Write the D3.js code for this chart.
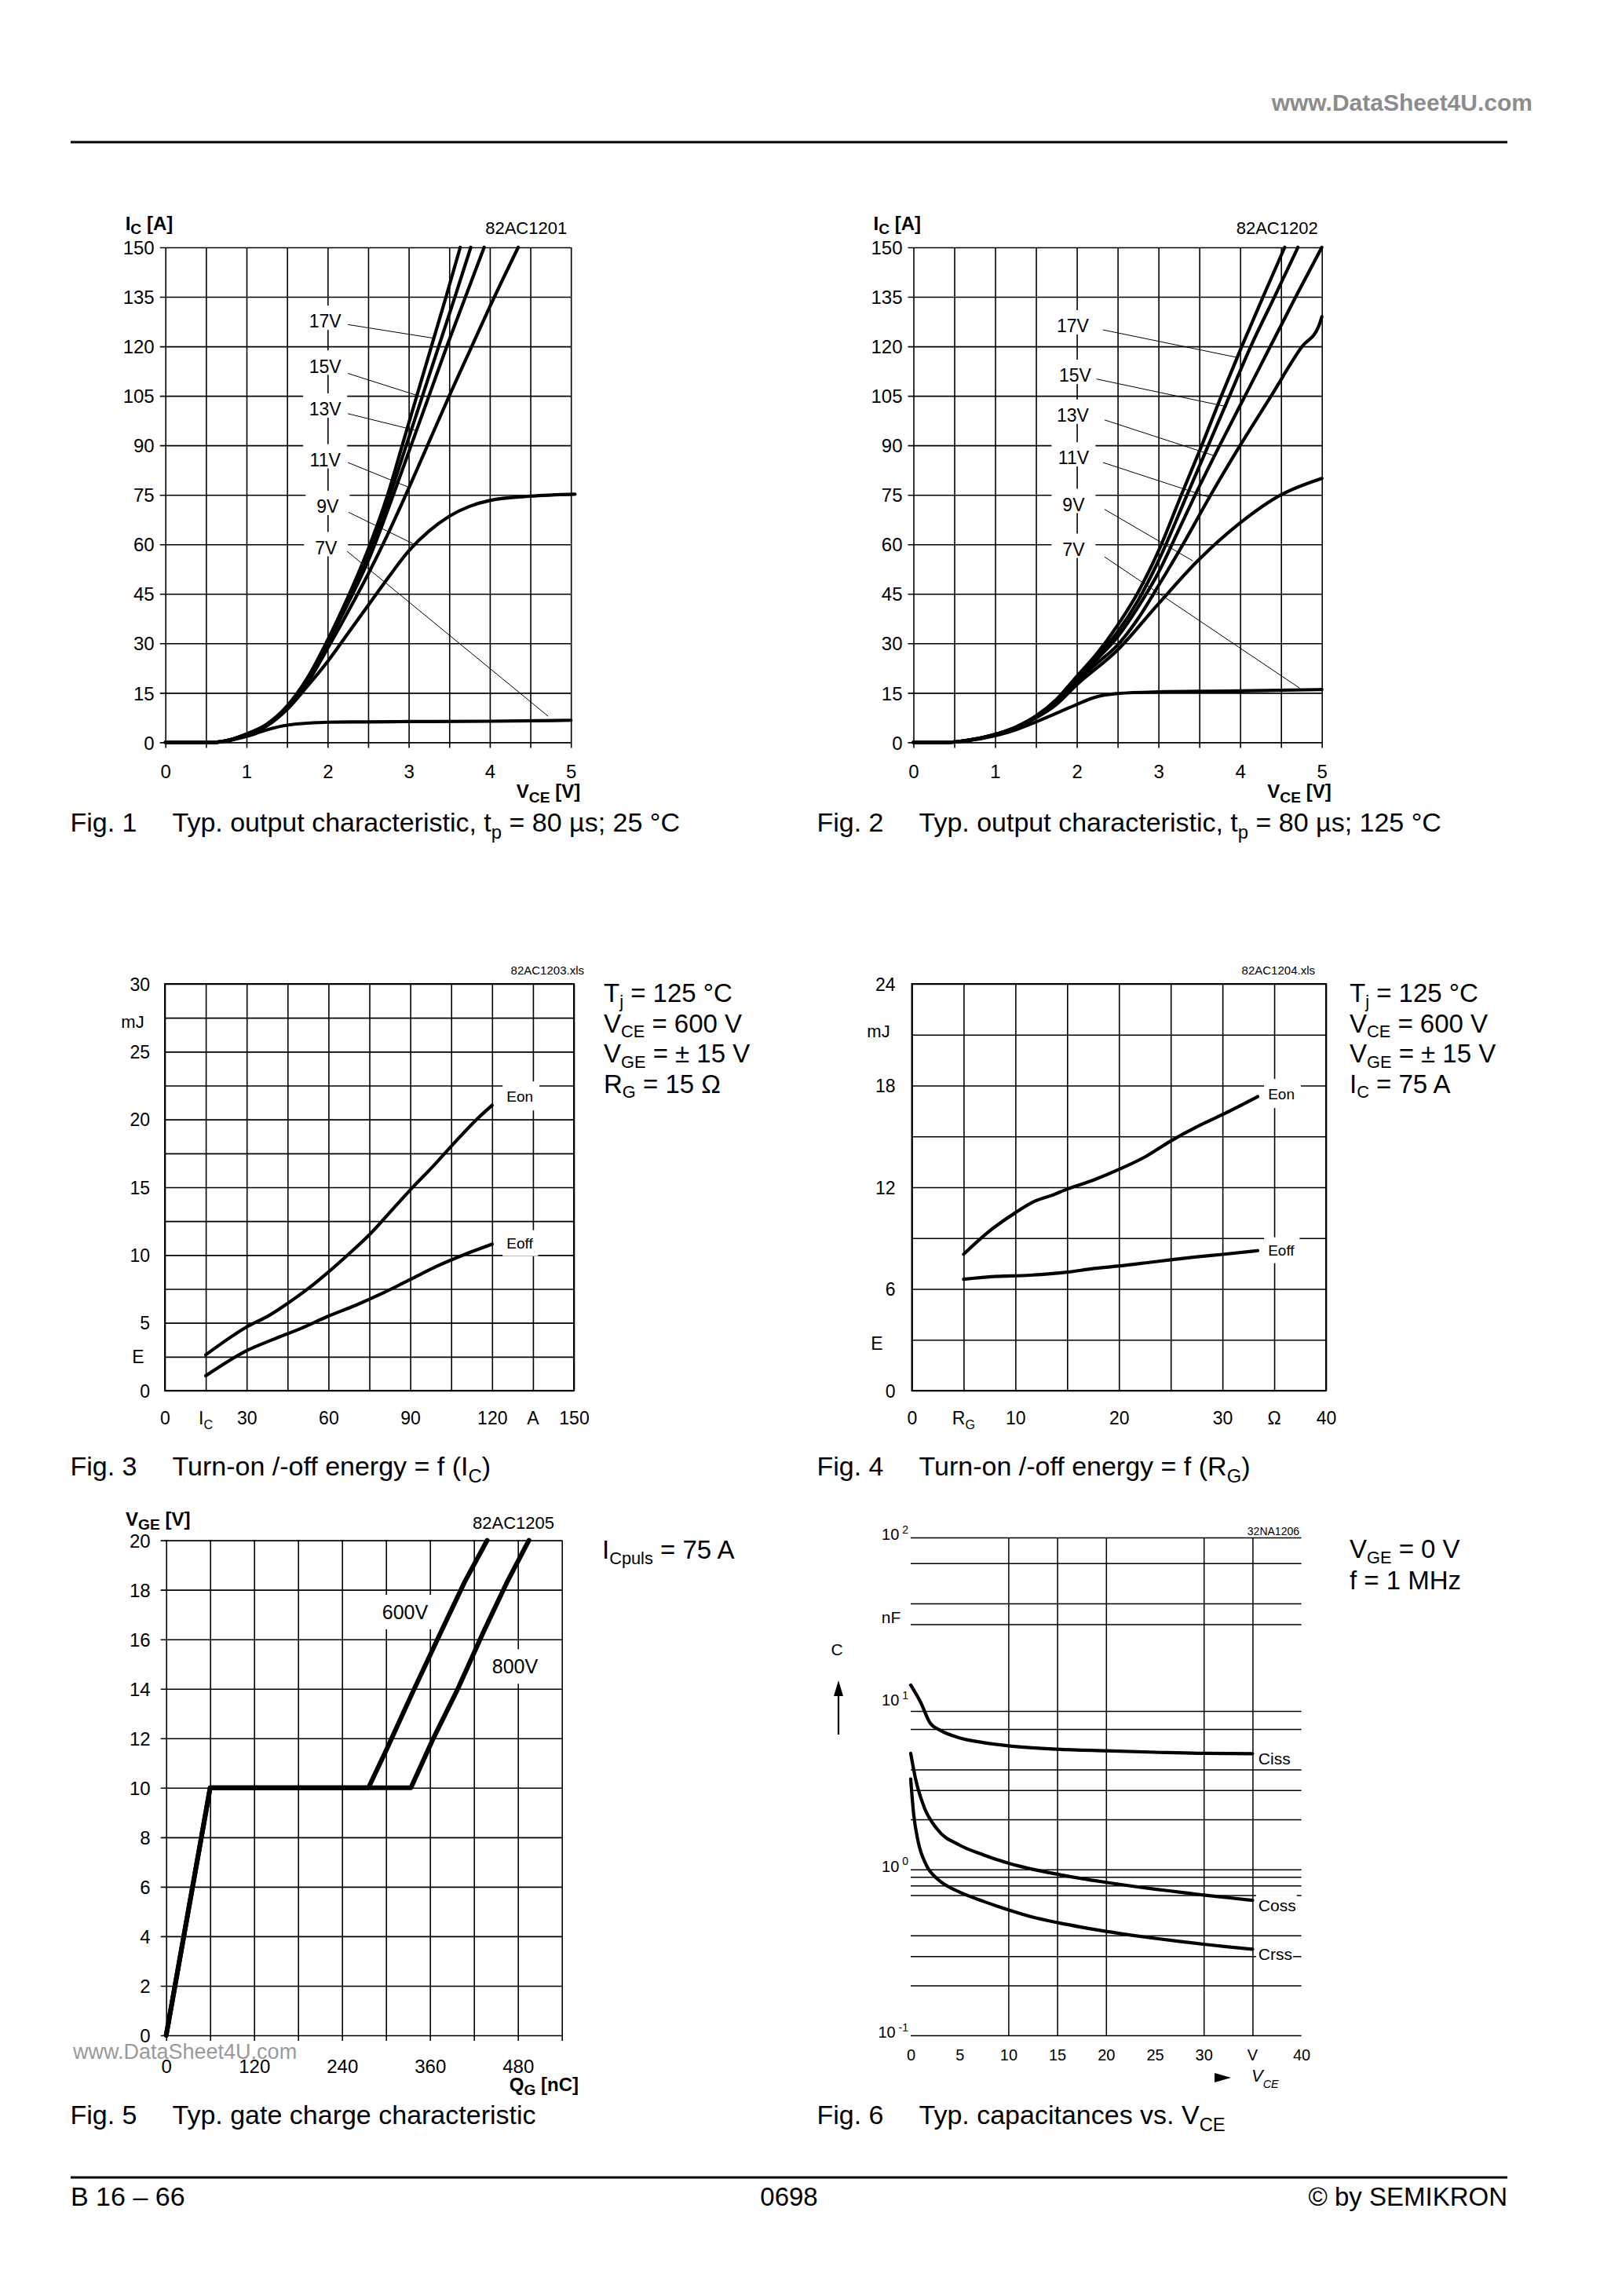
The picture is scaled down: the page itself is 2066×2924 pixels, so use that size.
<!DOCTYPE html>
<html><head><meta charset="utf-8"><title>SEMIKRON B 16-66</title>
<script src="https://cdn.jsdelivr.net/npm/d3@7/dist/d3.min.js"></script>
<style>html,body{margin:0;padding:0;background:#fff}svg text{font-family:"Liberation Sans",Arial,Helvetica,sans-serif;white-space:pre}</style>
</head><body><script>
// ================= DATA =================
// Fig.1 typ. output characteristic 25 °C : [VCE (V), IC (A)]
const f1_series = ['17V','15V','13V','11V','9V','7V'];
const f1_17V = [[0,0],[0.6,0],[0.8,0.8],[1.0,2.5],[1.25,5.5],[1.5,11],[1.75,19.5],[2.0,31],[2.25,44],[2.5,58.5],[2.74,75],[2.92,90],[3.1,105],[3.28,120],[3.46,135],[3.635,150]];
const f1_15V = [[0,0],[0.6,0],[0.8,0.8],[1.0,2.5],[1.25,5.4],[1.5,10.8],[1.75,19],[2.0,30.5],[2.25,43],[2.5,57],[2.77,75],[2.97,90],[3.17,105],[3.37,120],[3.57,135],[3.765,150]];
const f1_13V = [[0,0],[0.6,0],[0.8,0.8],[1.0,2.5],[1.25,5.3],[1.5,10.6],[1.75,18.5],[2.0,30],[2.25,42],[2.5,55],[2.81,75],[3.03,90],[3.25,105],[3.47,120],[3.70,135],[3.93,150]];
const f1_11V = [[0,0],[0.6,0],[0.8,0.8],[1.0,2.4],[1.25,5.2],[1.5,10.4],[1.75,18],[2.0,28.5],[2.25,39.5],[2.5,51],[2.75,63.5],[3.0,77],[3.25,91],[3.5,105],[3.75,118.5],[4.0,132],[4.35,150]];
const f1_9V  = [[0,0],[0.6,0],[0.8,0.7],[1.0,2.2],[1.25,5],[1.5,10],[1.75,17],[2.0,24.5],[2.25,33],[2.5,41.5],[2.75,50],[3.0,58],[3.25,64],[3.5,68.5],[3.75,71.5],[4.0,73.3],[4.5,74.6],[5.05,75.2]];
const f1_7V  = [[0,0],[0.6,0],[0.8,0.6],[1.0,1.8],[1.25,3.8],[1.5,5.2],[1.75,5.8],[2.0,6.1],[2.5,6.2],[3.0,6.3],[4.0,6.4],[5.0,6.7]];
const f1_labelAt  = [[1.97,127.6],[1.97,114],[1.97,101],[1.97,85.6],[2.0,71.5],[1.98,59]];
const f1_leadFrom = [[2.25,126.6],[2.25,111.8],[2.25,99.6],[2.25,84.8],[2.26,69.7],[2.24,57.9]];
const f1_leadTo   = [[3.30,122.5],[3.12,105],[3.09,94.5],[2.99,77.4],[3.07,60],[4.72,7.9]];

// Fig.2 typ. output characteristic 125 °C : [VCE (V), IC (A)]
const f2_17V = [[0,0],[0.4,0],[0.6,0.4],[1.0,2.4],[1.25,4.6],[1.5,8],[1.75,13],[2.0,20],[2.25,27],[2.5,35.5],[2.75,45.5],[3.0,58],[3.28,75],[3.53,90],[3.77,105],[4.02,120],[4.28,135],[4.545,150]];
const f2_15V = [[0,0],[0.4,0],[0.6,0.4],[1.0,2.4],[1.25,4.6],[1.5,7.9],[1.75,12.7],[2.0,19.5],[2.25,26],[2.5,33.5],[2.75,43],[3.0,55],[3.35,75],[3.61,90],[3.87,105],[4.13,120],[4.42,135],[4.707,150]];
const f2_13V = [[0,0],[0.4,0],[0.6,0.4],[1.0,2.4],[1.25,4.5],[1.5,7.8],[1.75,12.4],[2.0,19],[2.25,25.3],[2.5,32],[2.75,41],[3.0,51.5],[3.25,64.5],[3.45,75],[3.75,90],[4.06,105],[4.37,120],[4.68,135],[5.0,150]];
const f2_11V = [[0,0],[0.4,0],[0.6,0.4],[1.0,2.3],[1.25,4.4],[1.5,7.6],[1.75,12],[2.0,18.5],[2.25,24],[2.5,29.5],[2.75,37.5],[3.0,47.5],[3.3,60],[3.64,75],[4.0,90],[4.38,105],[4.76,120],[4.96,126],[5.0,129]];
const f2_9V  = [[0,0],[0.4,0],[0.6,0.4],[1.0,2.3],[1.25,4.3],[1.5,7.4],[1.75,11.5],[2.0,17.5],[2.5,28],[3.0,42],[3.5,55.5],[4.0,66.5],[4.5,75],[5.0,80]];
const f2_7V  = [[0,0],[0.4,0],[0.6,0.3],[1.0,2.0],[1.25,3.8],[1.5,6.2],[1.75,8.8],[2.0,11.5],[2.2,13.5],[2.5,14.8],[3.0,15.3],[4.0,15.6],[5.0,16.0]];
const f2_labelAt  = [[1.95,126.2],[1.98,111.2],[1.95,99.1],[1.96,86.2],[1.96,72.1],[1.96,58.5]];
const f2_leadFrom = [[2.32,125],[2.24,110.1],[2.34,97.7],[2.32,84.8],[2.34,70.6],[2.34,56.2]];
const f2_leadTo   = [[3.97,116.6],[3.84,101.7],[3.69,86.8],[3.63,74.2],[3.42,55],[4.73,16.4]];

// Fig.3 turn-on/-off energy vs IC : [IC (A), E (mJ)]
const f3_Eon  = [[15,2.64],[29.7,4.66],[38.4,5.57],[45.4,6.49],[52.5,7.52],[59.5,8.67],[67.3,10.05],[75.2,11.54],[83,13.26],[90.8,14.98],[98.6,16.6],[106.5,18.35],[114.3,20.0],[120,21.05]];
const f3_Eoff = [[15,1.1],[30,2.95],[40,3.8],[50,4.6],[60,5.5],[70,6.3],[80,7.2],[90,8.2],[100,9.2],[110,10.05],[120,10.8]];
// Fig.4 turn-on/-off energy vs RG : [RG (Ohm), E (mJ)]
const f4_Eon  = [[5,8.05],[7.3,9.32],[10,10.5],[11.8,11.16],[13.5,11.52],[15,11.89],[17.6,12.44],[20.1,13.08],[22.6,13.82],[25,14.73],[27.5,15.56],[30,16.29],[33.4,17.35]];
const f4_Eoff = [[5,6.57],[7.7,6.72],[11.4,6.81],[15,6.99],[17.6,7.21],[20.1,7.36],[22.6,7.54],[25,7.72],[27.5,7.89],[30,8.04],[33.4,8.26]];
// Fig.5 gate charge : [QG (nC), VGE (V)]
const f5_600V = [[0,0],[60,10],[276,10],[300,11.5],[337,13.9],[375,16.3],[407,18.3],[438,20]];
const f5_800V = [[0,0],[60,10],[334,10],[363,11.9],[398,14.0],[433,16.3],[465,18.3],[495,20]];
// Fig.6 capacitances : [VCE (V), C (nF)]
const f6_Ciss = [[0,12.9],[1,10.2],[2,7.6],[3,6.9],[5,6.2],[7.5,5.8],[10,5.55],[15,5.3],[20,5.18],[25,5.08],[30,5.0],[35,4.98]];
const f6_Coss = [[0,5.0],[0.5,3.5],[1.4,2.35],[2.7,1.75],[5,1.4],[7.5,1.22],[10,1.09],[12.5,1.0],[15,0.935],[17.5,0.88],[20,0.835],[22.5,0.795],[25,0.76],[27.5,0.73],[30,0.7],[32.5,0.675],[35,0.65]];
const f6_Crss = [[0,3.5],[0.3,2.16],[0.75,1.48],[1.6,1.06],[2.7,0.88],[3.8,0.79],[5,0.73],[7.5,0.64],[10,0.57],[12.5,0.515],[15,0.478],[17.5,0.448],[20,0.423],[22.5,0.402],[25,0.384],[27.5,0.368],[30,0.354],[32.5,0.341],[35,0.33]];

// tick / grid values
const f12_xGrid = [0,0.5,1,1.5,2,2.5,3,3.5,4,4.5,5];
const f12_xLab  = [0,1,2,3,4,5];
const f12_yGrid = [0,15,30,45,60,75,90,105,120,135,150];
const f3_xGrid = [0,15,30,45,60,75,90,105,120,135,150];
const f3_xLab  = [0,30,60,90,120,150];
const f3_yGrid = [0,2.5,5,7.5,10,12.5,15,17.5,20,22.5,25,27.5,30];
const f3_yLab  = [0,5,10,15,20,25,30];
const f4_xGrid = [0,5,10,15,20,25,30,35,40];
const f4_xLab  = [0,10,20,30,40];
const f4_yGrid = [0,3,6,9,12,15,18,21,24];
const f4_yLab  = [0,6,12,18,24];
const f5_xGrid = [0,60,120,180,240,300,360,420,480,540];
const f5_xLab  = [0,120,240,360,480];
const f5_yGrid = [0,2,4,6,8,10,12,14,16,18,20];
const f6_xGrid = [10,15,20,30,35];
const f6_xLab  = [0,5,10,15,20,25,30,40];
const f6_yGrid = [100,70,40,30,9,7,4,3,2,1,0.9,0.8,0.7,0.4,0.3,0.2,0.1];
const f6_yDec  = [100,10,1,0.1];
const f6_yExp  = ['2','1','0','-1'];

// ================= DRAWING =================
const svg = d3.select('body').append('svg').attr('width',2066).attr('height',2924);
svg.append('rect').attr('width',2066).attr('height',2924).attr('fill','#fff');

function rich(g,x,y,parts,o){
  const t=g.append('text').attr('x',x).attr('y',y).attr('font-size',o.size)
    .attr('text-anchor',o.anchor||'start').attr('fill',o.fill||'#000');
  if(o.weight) t.attr('font-weight',o.weight);
  if(o.italic) t.attr('font-style','italic');
  let cur=0;
  parts.forEach(p=>{
    const k=p[1]||'n';
    const off = k==='sub'? o.size*(o.subDy||0.28) : k==='sup'? -o.size*0.42 : 0;
    const ts=t.append('tspan').text(p[0]).attr('dy',off-cur);
    if(k!=='n') ts.attr('font-size',o.size*(o.subScale||0.72));
    cur=off;
  });
  return t;
}
function grid(g,x,y,xv,yv,o){
  const B=y.range()[0], T=y.range()[1], L=x.range()[0], R=x.range()[1];
  const eb=o.extB||0, el=o.extL||0;
  const ax=g.append('g').attr('transform',`translate(0,${B+eb})`)
    .call(d3.axisBottom(x).tickValues(xv).tickSize(-(B-T+eb)).tickFormat('').tickSizeOuter(0));
  ax.select('.domain').remove();
  ax.selectAll('line').attr('stroke','#000').attr('stroke-width',o.sw);
  const ay=g.append('g').attr('transform',`translate(${L-el},0)`)
    .call(d3.axisLeft(y).tickValues(yv).tickSize(-(R-L+el)).tickFormat('').tickSizeOuter(0));
  ay.select('.domain').remove();
  ay.selectAll('line').attr('stroke','#000').attr('stroke-width',o.sw);
}
function xLabels(g,x,vals,base,size,fmt){
  const a=g.append('g').attr('transform',`translate(0,${base})`)
    .call(d3.axisBottom(x).tickValues(vals).tickSize(0).tickPadding(0).tickFormat(fmt||(d=>String(d))));
  a.select('.domain').remove();
  a.attr('font-size',size);
  a.selectAll('text').attr('y',0).attr('dy',0).attr('fill','#000');
}
function yLabels(g,y,vals,xr,size,fmt){
  const a=g.append('g').attr('transform',`translate(${xr},0)`)
    .call(d3.axisLeft(y).tickValues(vals).tickSize(0).tickPadding(0).tickFormat(fmt||(d=>String(d))));
  a.select('.domain').remove();
  a.attr('font-size',size);
  a.selectAll('text').attr('x',0).attr('dy','0.36em').attr('fill','#000');
}
function curve(g,x,y,data,sw,ctype){
  g.append('path').datum(data).attr('fill','none').attr('stroke','#000').attr('stroke-width',sw)
   .attr('stroke-linejoin','round').attr('stroke-linecap','round')
   .attr('d',d3.line().x(d=>x(d[0])).y(d=>y(d[1])).curve(ctype||d3.curveMonotoneX));
}
function boxText(g,cx,cy,txt,size,box,anchor){
  g.append('rect').attr('x',cx+box[0]).attr('y',cy+box[1]).attr('width',box[2]).attr('height',box[3]).attr('fill','#fff');
  g.append('text').attr('x',cx).attr('y',cy).attr('dy','0.36em').attr('text-anchor',anchor||'middle')
   .attr('font-size',size).attr('fill','#000').text(txt);
}
function bboxLabel(g,x0,cy,txt,size,pad){
  const t=g.append('text').attr('x',x0).attr('y',cy).attr('dy','0.36em').attr('font-size',size).attr('fill','#000').text(txt);
  const b=t.node().getBBox();
  g.insert('rect',()=>t.node()).attr('x',b.x-pad[0]).attr('y',b.y-pad[1])
   .attr('width',b.width+pad[0]+pad[2]).attr('height',b.height+pad[1]+pad[3]).attr('fill','#fff');
}
const condOpts={size:33,subScale:0.66,subDy:0.2};

// ---------- header / footer ----------
svg.append('text').attr('x',1952).attr('y',141).attr('text-anchor','end').attr('font-size',30)
  .attr('font-weight','bold').attr('fill','#8c8c8c').text('www.DataSheet4U.com');
svg.append('line').attr('x1',90).attr('x2',1920).attr('y1',181).attr('y2',181).attr('stroke','#000').attr('stroke-width',3);
svg.append('line').attr('x1',90).attr('x2',1920).attr('y1',2773).attr('y2',2773).attr('stroke','#000').attr('stroke-width',3);
svg.append('text').attr('x',90).attr('y',2809).attr('font-size',34).text('B 16 – 66');
svg.append('text').attr('x',1005).attr('y',2809).attr('font-size',33).attr('text-anchor','middle').text('0698');
svg.append('text').attr('x',1920).attr('y',2809).attr('font-size',33).attr('text-anchor','end').text('© by SEMIKRON');

function caption(x,y,num,parts){
  svg.append('text').attr('x',x).attr('y',y).attr('font-size',34).text('Fig. '+num);
  rich(svg,x+130,y,parts,{size:34,subScale:0.7,subDy:0.25});
}

// ---------- Fig 1 & 2 ----------
function outputFig(o){
  const g=svg.append('g');
  const x=d3.scaleLinear().domain([0,5]).range([o.L,o.R]);
  const y=d3.scaleLinear().domain([0,150]).range([o.B,o.T]);
  grid(g,x,y,f12_xGrid,f12_yGrid,{sw:1.6,extB:7,extL:7});
  yLabels(g,y,f12_yGrid,o.L-14,24);
  xLabels(g,x,f12_xLab,o.B+46,24);
  rich(g,o.L-51,o.T-22,[['I'],['C','sub'],[' [A]']],{size:24,weight:'bold',subScale:0.8,subDy:0.22});
  g.append('text').attr('x',o.R-5).attr('y',o.T-17).attr('text-anchor','end').attr('font-size',22).text(o.code);
  rich(g,o.R+12,o.B+71,[['V'],['CE','sub'],[' [V]']],{size:24,weight:'bold',anchor:'end',subScale:0.8,subDy:0.22});
  o.labels.forEach((s,i)=>boxText(g,x(o.labelAt[i][0]),y(o.labelAt[i][1]),s,23,[-28,-20,56,31]));
  o.curves.forEach(c=>curve(g,x,y,c,4.2));
  o.labels.forEach((s,i)=>g.append('line')
    .attr('x1',x(o.leadFrom[i][0])).attr('y1',y(o.leadFrom[i][1]))
    .attr('x2',x(o.leadTo[i][0])).attr('y2',y(o.leadTo[i][1]))
    .attr('stroke','#000').attr('stroke-width',1));
}
outputFig({L:210.7,R:727.2,T:315,B:945.4,code:'82AC1201',labels:f1_series,
  curves:[f1_17V,f1_15V,f1_13V,f1_11V,f1_9V,f1_7V],labelAt:f1_labelAt,leadFrom:f1_leadFrom,leadTo:f1_leadTo});
outputFig({L:1163.5,R:1683.7,T:315,B:945.4,code:'82AC1202',labels:f1_series,
  curves:[f2_17V,f2_15V,f2_13V,f2_11V,f2_9V,f2_7V],labelAt:f2_labelAt,leadFrom:f2_leadFrom,leadTo:f2_leadTo});
caption(89.5,1059,'1',[['Typ. output characteristic, t'],['p','sub'],[' = 80 µs; 25 °C']]);
caption(1040.5,1059,'2',[['Typ. output characteristic, t'],['p','sub'],[' = 80 µs; 125 °C']]);

// ---------- Fig 3 ----------
(function(){
  const g=svg.append('g');
  const L=210,R=731,T=1253,B=1771;
  const x=d3.scaleLinear().domain([0,150]).range([L,R]);
  const y=d3.scaleLinear().domain([0,30]).range([B,T]);
  grid(g,x,y,f3_xGrid,f3_yGrid,{sw:1.6});
  g.append('rect').attr('x',L).attr('y',T).attr('width',R-L).attr('height',B-T).attr('fill','none').attr('stroke','#000').attr('stroke-width',2);
  yLabels(g,y,f3_yLab,L-19,23);
  g.append('text').attr('x',169).attr('y',y(27.2)).attr('dy','0.36em').attr('text-anchor','middle').attr('font-size',22).text('mJ');
  g.append('text').attr('x',176).attr('y',y(2.5)).attr('dy','0.36em').attr('text-anchor','middle').attr('font-size',23).text('E');
  xLabels(g,x,f3_xLab,1814,23);
  rich(g,x(15),1814,[['I'],['C','sub']],{size:23,anchor:'middle',subScale:0.7,subDy:0.25});
  g.append('text').attr('x',x(135)).attr('y',1814).attr('text-anchor','middle').attr('font-size',23).text('A');
  g.append('text').attr('x',744).attr('y',1241).attr('text-anchor','end').attr('font-size',15).text('82AC1203.xls');
  bboxLabel(g,x(125.3),y(21.7),'Eon',19,[5,9,8,7]);
  bboxLabel(g,x(125.3),y(10.9),'Eoff',19,[5,6,6,6]);
  curve(g,x,y,f3_Eon,4.2);
  curve(g,x,y,f3_Eoff,4.2);
  const lines=[[['T'],['j','sub'],[' = 125 °C']],[['V'],['CE','sub'],[' = 600 V']],[['V'],['GE','sub'],[' = ± 15 V']],[['R'],['G','sub'],[' = 15 Ω']]];
  lines.forEach((p,i)=>rich(g,769,1276+i*38.5,p,condOpts));
})();

// ---------- Fig 4 ----------
(function(){
  const g=svg.append('g');
  const L=1161.5,R=1689,T=1253,B=1771;
  const x=d3.scaleLinear().domain([0,40]).range([L,R]);
  const y=d3.scaleLinear().domain([0,24]).range([B,T]);
  grid(g,x,y,f4_xGrid,f4_yGrid,{sw:1.6});
  g.append('rect').attr('x',L).attr('y',T).attr('width',R-L).attr('height',B-T).attr('fill','none').attr('stroke','#000').attr('stroke-width',2);
  yLabels(g,y,f4_yLab,L-21,23);
  g.append('text').attr('x',1119).attr('y',y(21.2)).attr('dy','0.36em').attr('text-anchor','middle').attr('font-size',22).text('mJ');
  g.append('text').attr('x',1117).attr('y',y(2.8)).attr('dy','0.36em').attr('text-anchor','middle').attr('font-size',23).text('E');
  xLabels(g,x,f4_xLab,1814,23);
  rich(g,x(5),1814,[['R'],['G','sub']],{size:23,anchor:'middle',subScale:0.7,subDy:0.25});
  g.append('text').attr('x',x(35)).attr('y',1814).attr('text-anchor','middle').attr('font-size',23).text('Ω');
  g.append('text').attr('x',1675).attr('y',1241).attr('text-anchor','end').attr('font-size',15).text('82AC1204.xls');
  bboxLabel(g,x(34.4),y(17.5),'Eon',19,[5,9,8,7]);
  bboxLabel(g,x(34.4),y(8.3),'Eoff',19,[5,6,6,6]);
  curve(g,x,y,f4_Eon,4.2);
  curve(g,x,y,f4_Eoff,4.2);
  const lines=[[['T'],['j','sub'],[' = 125 °C']],[['V'],['CE','sub'],[' = 600 V']],[['V'],['GE','sub'],[' = ± 15 V']],[['I'],['C','sub'],[' = 75 A']]];
  lines.forEach((p,i)=>rich(g,1719,1276+i*38.5,p,condOpts));
})();
caption(89.5,1879,'3',[['Turn-on /-off energy = f (I'],['C','sub'],[')']]);
caption(1040.5,1879,'4',[['Turn-on /-off energy = f (R'],['G','sub'],[')']]);

// ---------- Fig 5 ----------
(function(){
  const g=svg.append('g');
  const L=211.7,R=715.7,T=1961.6,B=2592;
  const x=d3.scaleLinear().domain([0,540]).range([L,R]);
  const y=d3.scaleLinear().domain([0,20]).range([B,T]);
  grid(g,x,y,f5_xGrid,f5_yGrid,{sw:1.6,extB:7,extL:7});
  yLabels(g,y,f5_yGrid,L-20,24);
  g.append('text').attr('x',93).attr('y',2622).attr('font-size',27).attr('fill','#9a9a9a').text('www.DataSheet4U.com');
  xLabels(g,x,f5_xLab,2640,24);
  rich(g,160,1943,[['V'],['GE','sub'],[' [V]']],{size:24,weight:'bold',subScale:0.8,subDy:0.22});
  g.append('text').attr('x',706).attr('y',1947).attr('text-anchor','end').attr('font-size',22).text('82AC1205');
  rich(g,737,2663,[['Q'],['G','sub'],[' [nC]']],{size:24,weight:'bold',anchor:'end',subScale:0.8,subDy:0.22});
  boxText(g,x(326),y(17.1),'600V',25,[-38,-22,84,44]);
  boxText(g,x(476),y(14.9),'800V',25,[-36,-22,80,44]);
  curve(g,x,y,f5_600V,6,d3.curveLinear);
  curve(g,x,y,f5_800V,6,d3.curveLinear);
  rich(g,767,1985,[['I'],['Cpuls','sub'],[' = 75 A']],condOpts);
})();

// ---------- Fig 6 ----------
(function(){
  const g=svg.append('g');
  const L=1160,R=1657.6,T=1958,B=2592;
  const x=d3.scaleLinear().domain([0,40]).range([L,R]);
  const y=d3.scaleLog().domain([0.1,100]).range([B,T]);
  grid(g,x,y,f6_xGrid,f6_yGrid,{sw:1.5});
  f6_yDec.forEach((d,i)=>rich(g,1157,y(d)+3,[['10'],[' '+f6_yExp[i],'sup']],{size:20,anchor:'end',subScale:0.7}));
  g.append('text').attr('x',1135).attr('y',2067).attr('text-anchor','middle').attr('font-size',21).text('nF');
  g.append('text').attr('x',1066).attr('y',2108).attr('text-anchor','middle').attr('font-size',21).text('C');
  g.append('line').attr('x1',1068).attr('x2',1068).attr('y1',2209).attr('y2',2155).attr('stroke','#000').attr('stroke-width',2.2);
  g.append('path').attr('d','M1068,2140 L1074,2160 L1062,2160 Z').attr('fill','#000');
  xLabels(g,x,f6_xLab,2624,20);
  g.append('text').attr('x',x(35)).attr('y',2624).attr('text-anchor','middle').attr('font-size',20).text('V');
  g.append('path').attr('d','M1547,2640 L1568,2646 L1547,2652 Z').attr('fill','#000');
  rich(g,1594,2651,[['V'],['CE','sub']],{size:22,italic:true,subScale:0.65,subDy:0.35});
  g.append('text').attr('x',1655).attr('y',1955).attr('text-anchor','end').attr('font-size',14).text('32NA1206');
  bboxLabel(g,x(35.6),y(4.68),'Ciss',21,[3,1,2,1]);
  bboxLabel(g,x(35.6),y(0.607),'Coss',21,[3,2,1,2]);
  bboxLabel(g,x(35.6),y(0.31),'Crss',21,[3,2,1,1]);
  curve(g,x,y,f6_Ciss,4.2);
  curve(g,x,y,f6_Coss,4.2);
  curve(g,x,y,f6_Crss,4.2);
  rich(g,1719,1984,[['V'],['GE','sub'],[' = 0 V']],condOpts);
  g.append('text').attr('x',1719).attr('y',2024).attr('font-size',33).text('f = 1 MHz');
})();
caption(89.5,2705,'5',[['Typ. gate charge characteristic']]);
caption(1040.5,2705,'6',[['Typ. capacitances vs. V'],['CE','sub']]);
</script></body></html>
